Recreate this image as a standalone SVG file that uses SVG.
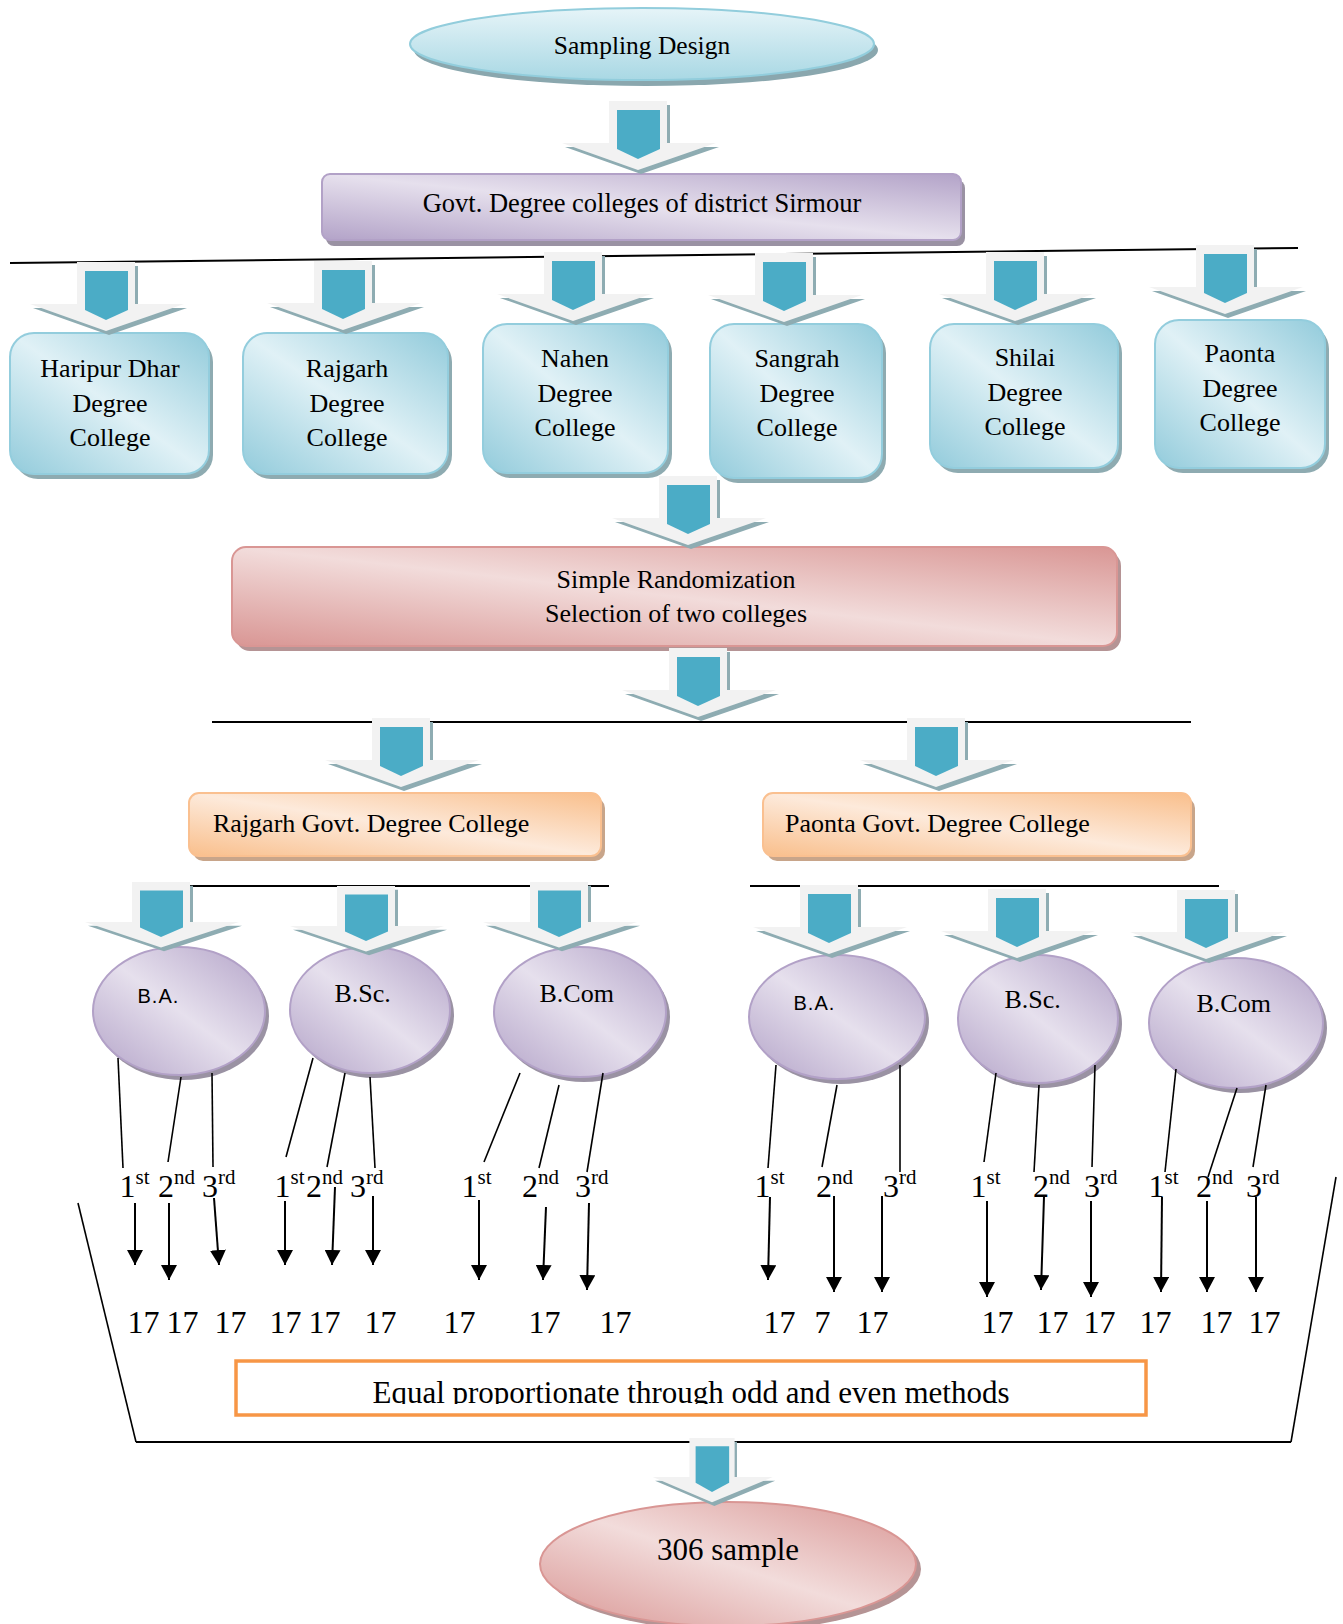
<svg xmlns="http://www.w3.org/2000/svg" width="1343" height="1624" viewBox="0 0 1343 1624">
<style>
.t{font-family:"Liberation Serif","Times New Roman",serif;fill:#000}
.f26{font-size:26px}
.c{text-anchor:middle}
.lbl{font-size:32px}
.sans{font-family:"Liberation Sans",Arial,sans-serif;font-size:20px;letter-spacing:1px;fill:#000}
.ln{stroke:#000;stroke-width:1.6;fill:none}
.hl{stroke:#000;stroke-width:2;fill:none}
.ar{stroke:#000;stroke-width:2;fill:none;marker-end:url(#ah)}
.teal{fill:url(#gTeal);stroke:#93cddd;stroke-width:2}
.tealS{fill:#8eabb1}
.pur{fill:url(#gPur);stroke:#b2a1c7;stroke-width:2}
.purS{fill:#9a92a3}
.pink{fill:url(#gPink);stroke:#d99694;stroke-width:2}
.pinkS{fill:#b59495}
.org{fill:url(#gOrg);stroke:#fac090;stroke-width:2}
.orgS{fill:#c8a58a}
</style>
<defs>
<linearGradient id="gTeal" x1="1" y1="0" x2="0" y2="1">
<stop offset="0" stop-color="#92cbdb"/><stop offset="0.5" stop-color="#e0f1f6"/><stop offset="1" stop-color="#92cbdb"/>
</linearGradient>
<linearGradient id="gTop" x1="0" y1="0" x2="0" y2="1">
<stop offset="0" stop-color="#e6f4f8"/><stop offset="1" stop-color="#a9d8e4"/>
</linearGradient>
<linearGradient id="gPur" x1="1" y1="0" x2="0" y2="1">
<stop offset="0" stop-color="#b3a3c8"/><stop offset="0.5" stop-color="#e6e0ed"/><stop offset="1" stop-color="#b3a3c8"/>
</linearGradient>
<linearGradient id="gPink" x1="1" y1="0" x2="0" y2="1">
<stop offset="0" stop-color="#d99694"/><stop offset="0.5" stop-color="#f2dcdb"/><stop offset="1" stop-color="#d99694"/>
</linearGradient>
<linearGradient id="gOrg" x1="1" y1="0" x2="0" y2="1">
<stop offset="0" stop-color="#f9bf8c"/><stop offset="0.5" stop-color="#fdeadb"/><stop offset="1" stop-color="#f9bf8c"/>
</linearGradient>
<marker id="ah" viewBox="0 0 15 16" refX="15" refY="8" markerWidth="15" markerHeight="16" markerUnits="userSpaceOnUse" orient="auto">
<path d="M0,0 L15,8 L0,16 z" fill="#000"/>
</marker>
<g id="arrow">
<polygon points="-29,0 29,0 29,42 78,42 0,69 -76,42 -29,42" fill="#8eacb2" transform="translate(3,4)"/>
<polygon points="-29,0 29,0 29,42 78,42 0,69 -76,42 -29,42" fill="#f2f2f2"/>
<polygon points="-21,9 22,9 22,48 0,58 -21,48" fill="#4bacc6"/>
</g>
<clipPath id="clipEq"><rect x="236" y="1361" width="910" height="43"/></clipPath>
</defs>
<rect x="0" y="0" width="1343" height="1624" fill="#fff"/>

<g id="nodes">
<g id="n-sampling">
<ellipse cx="646" cy="50" rx="232" ry="36" fill="#8aa7ae"/>
<ellipse cx="642" cy="44" rx="232" ry="36" fill="url(#gTop)" stroke="#92cddc" stroke-width="2"/>
<text class="t c" x="642" y="54" font-size="25.5">Sampling Design</text>
</g>
<g id="n-govt">
<rect x="326" y="180" width="639" height="66" rx="8" class="purS"/>
<rect x="322" y="174" width="639" height="66" rx="8" class="pur"/>
<text class="t c" x="642" y="212" font-size="26.5">Govt. Degree colleges of district Sirmour</text>
</g>
<g id="n-haripur">
<rect x="14" y="338" width="199" height="141" rx="24" class="tealS"/>
<rect x="10" y="333" width="199" height="141" rx="24" class="teal"/>
<text class="t c f26" x="110" y="377">Haripur Dhar</text>
<text class="t c f26" x="110" y="412">Degree</text>
<text class="t c f26" x="110" y="446">College</text>
</g>
<g id="n-rajgarh">
<rect x="247" y="338" width="205" height="141" rx="24" class="tealS"/>
<rect x="243" y="333" width="205" height="141" rx="24" class="teal"/>
<text class="t c f26" x="347" y="377">Rajgarh</text>
<text class="t c f26" x="347" y="412">Degree</text>
<text class="t c f26" x="347" y="446">College</text>
</g>
<g id="n-nahen">
<rect x="487" y="329" width="185" height="149" rx="24" class="tealS"/>
<rect x="483" y="324" width="185" height="149" rx="24" class="teal"/>
<text class="t c f26" x="575" y="367">Nahen</text>
<text class="t c f26" x="575" y="402">Degree</text>
<text class="t c f26" x="575" y="436">College</text>
</g>
<g id="n-sangrah">
<rect x="714" y="329" width="172" height="154" rx="24" class="tealS"/>
<rect x="710" y="324" width="172" height="154" rx="24" class="teal"/>
<text class="t c f26" x="797" y="367">Sangrah</text>
<text class="t c f26" x="797" y="402">Degree</text>
<text class="t c f26" x="797" y="436">College</text>
</g>
<g id="n-shilai">
<rect x="934" y="329" width="188" height="144" rx="24" class="tealS"/>
<rect x="930" y="324" width="188" height="144" rx="24" class="teal"/>
<text class="t c f26" x="1025" y="366">Shilai</text>
<text class="t c f26" x="1025" y="401">Degree</text>
<text class="t c f26" x="1025" y="435">College</text>
</g>
<g id="n-paonta">
<rect x="1159" y="325" width="170" height="148" rx="24" class="tealS"/>
<rect x="1155" y="320" width="170" height="148" rx="24" class="teal"/>
<text class="t c f26" x="1240" y="362">Paonta</text>
<text class="t c f26" x="1240" y="397">Degree</text>
<text class="t c f26" x="1240" y="431">College</text>
</g>
<g id="n-simple">
<rect x="236" y="552" width="885" height="99" rx="14" class="pinkS"/>
<rect x="232" y="547" width="885" height="99" rx="14" class="pink"/>
<text class="t c f26" x="676" y="588">Simple Randomization</text>
<text class="t c f26" x="676" y="622">Selection of two colleges</text>
</g>
<g id="n-rajgarh-govt">
<rect x="193" y="798" width="412" height="63" rx="10" class="orgS"/>
<rect x="189" y="793" width="412" height="63" rx="10" class="org"/>
<text class="t f26" x="213" y="832">Rajgarh Govt. Degree College</text>
</g>
<g id="n-paonta-govt">
<rect x="767" y="798" width="428" height="63" rx="10" class="orgS"/>
<rect x="763" y="793" width="428" height="63" rx="10" class="org"/>
<text class="t f26" x="785" y="832">Paonta Govt. Degree College</text>
</g>
<g id="n-ba-r">
<ellipse cx="183" cy="1016" rx="86" ry="64" class="purS"/>
<ellipse cx="179" cy="1011" rx="86" ry="64" class="pur"/>
<text class="sans" x="137.5" y="1003">B.A.</text>
</g>
<g id="n-bsc-r">
<ellipse cx="374" cy="1015" rx="80" ry="63" class="purS"/>
<ellipse cx="370" cy="1010" rx="80" ry="63" class="pur"/>
<text class="t f26" x="334.5" y="1002">B.Sc.</text>
</g>
<g id="n-bcom-r">
<ellipse cx="584" cy="1017" rx="86" ry="65" class="purS"/>
<ellipse cx="580" cy="1012" rx="86" ry="65" class="pur"/>
<text class="t f26" x="539.5" y="1002">B.Com</text>
</g>
<g id="n-ba-p">
<ellipse cx="841" cy="1022" rx="88" ry="62" class="purS"/>
<ellipse cx="837" cy="1017" rx="88" ry="62" class="pur"/>
<text class="sans" x="793.5" y="1010">B.A.</text>
</g>
<g id="n-bsc-p">
<ellipse cx="1042" cy="1024" rx="80" ry="64" class="purS"/>
<ellipse cx="1038" cy="1019" rx="80" ry="64" class="pur"/>
<text class="t f26" x="1004.5" y="1008">B.Sc.</text>
</g>
<g id="n-bcom-p">
<ellipse cx="1240" cy="1028" rx="87" ry="65" class="purS"/>
<ellipse cx="1236" cy="1023" rx="87" ry="65" class="pur"/>
<text class="t f26" x="1196.5" y="1012">B.Com</text>
</g>
<g id="n-labels" class="t">
<text class="t lbl" x="119.5" y="1197">1<tspan font-size="21" dy="-13">st</tspan></text>
<text class="t lbl" x="158" y="1197">2<tspan font-size="21" dy="-13">nd</tspan></text>
<text class="t lbl" x="202" y="1197">3<tspan font-size="21" dy="-13">rd</tspan></text>
<text class="t lbl" x="274.5" y="1197">1<tspan font-size="21" dy="-13">st</tspan></text>
<text class="t lbl" x="306" y="1197">2<tspan font-size="21" dy="-13">nd</tspan></text>
<text class="t lbl" x="350" y="1197">3<tspan font-size="21" dy="-13">rd</tspan></text>
<text class="t lbl" x="461.5" y="1197">1<tspan font-size="21" dy="-13">st</tspan></text>
<text class="t lbl" x="522" y="1197">2<tspan font-size="21" dy="-13">nd</tspan></text>
<text class="t lbl" x="575" y="1197">3<tspan font-size="21" dy="-13">rd</tspan></text>
<text class="t lbl" x="754.5" y="1197">1<tspan font-size="21" dy="-13">st</tspan></text>
<text class="t lbl" x="816" y="1197">2<tspan font-size="21" dy="-13">nd</tspan></text>
<text class="t lbl" x="883" y="1197">3<tspan font-size="21" dy="-13">rd</tspan></text>
<text class="t lbl" x="970.5" y="1197">1<tspan font-size="21" dy="-13">st</tspan></text>
<text class="t lbl" x="1033" y="1197">2<tspan font-size="21" dy="-13">nd</tspan></text>
<text class="t lbl" x="1084" y="1197">3<tspan font-size="21" dy="-13">rd</tspan></text>
<text class="t lbl" x="1148.5" y="1197">1<tspan font-size="21" dy="-13">st</tspan></text>
<text class="t lbl" x="1196" y="1197">2<tspan font-size="21" dy="-13">nd</tspan></text>
<text class="t lbl" x="1246" y="1197">3<tspan font-size="21" dy="-13">rd</tspan></text>
</g>
<g id="n-counts">
<text class="t lbl" x="127.5" y="1333">17</text>
<text class="t lbl" x="166.5" y="1333">17</text>
<text class="t lbl" x="214.5" y="1333">17</text>
<text class="t lbl" x="269.5" y="1333">17</text>
<text class="t lbl" x="308.5" y="1333">17</text>
<text class="t lbl" x="364.5" y="1333">17</text>
<text class="t lbl" x="443.5" y="1333">17</text>
<text class="t lbl" x="528.5" y="1333">17</text>
<text class="t lbl" x="599.5" y="1333">17</text>
<text class="t lbl" x="763.5" y="1333">17</text>
<text class="t lbl" x="814.5" y="1333">7</text>
<text class="t lbl" x="856.5" y="1333">17</text>
<text class="t lbl" x="981.5" y="1333">17</text>
<text class="t lbl" x="1036.5" y="1333">17</text>
<text class="t lbl" x="1083.5" y="1333">17</text>
<text class="t lbl" x="1139.5" y="1333">17</text>
<text class="t lbl" x="1200.5" y="1333">17</text>
<text class="t lbl" x="1248.5" y="1333">17</text>
</g>
<g id="n-equal">
<rect x="236" y="1361" width="910" height="54" fill="#fff" stroke="#f79646" stroke-width="3.5"/>
<text class="t c" x="691" y="1403" font-size="31" clip-path="url(#clipEq)">Equal proportionate through odd and even methods</text>
</g>
<g id="n-sample">
<ellipse cx="733" cy="1569" rx="188" ry="62" class="pinkS"/>
<ellipse cx="728" cy="1564" rx="188" ry="62" class="pink"/>
<text class="t c" x="728" y="1560" font-size="31">306 sample</text>
</g>
</g>

<g id="connectors">
<line class="hl" x1="10" y1="263" x2="1298" y2="248"/>
<line class="hl" x1="212" y1="722" x2="1191" y2="722"/>
<line class="hl" x1="185" y1="886" x2="609" y2="886"/>
<line class="hl" x1="750" y1="886" x2="1219" y2="886"/>
<line class="ln" x1="78" y1="1203" x2="136" y2="1442"/>
<line class="hl" x1="136" y1="1442" x2="1291" y2="1442"/>
<line class="ln" x1="1291" y1="1442" x2="1336" y2="1177"/>

<use href="#arrow" transform="translate(638,101)"/>
<use href="#arrow" transform="translate(106,262)"/>
<use href="#arrow" transform="translate(343,261)"/>
<use href="#arrow" transform="translate(573,252)"/>
<use href="#arrow" transform="translate(784,253)"/>
<use href="#arrow" transform="translate(1015,252)"/>
<use href="#arrow" transform="translate(1225,245)"/>
<use href="#arrow" transform="translate(688,476)"/>
<use href="#arrow" transform="translate(698,648)"/>
<use href="#arrow" transform="translate(401,718)"/>
<use href="#arrow" transform="translate(936,718)"/>
<use href="#arrow" transform="translate(161,882) scale(1,0.95)"/>
<use href="#arrow" transform="translate(366,886) scale(1,0.95)"/>
<use href="#arrow" transform="translate(559,882) scale(1,0.95)"/>
<use href="#arrow" transform="translate(829,885)"/>
<use href="#arrow" transform="translate(1017,889)"/>
<use href="#arrow" transform="translate(1206,890)"/>
<use href="#arrow" transform="translate(712,1438) scale(0.78,0.93)"/>

<line class="ln" x1="118" y1="1058" x2="123" y2="1168"/>
<line class="ln" x1="181" y1="1077" x2="168" y2="1162"/>
<line class="ln" x1="212" y1="1073" x2="213" y2="1167"/>
<line class="ln" x1="313" y1="1058" x2="286" y2="1157"/>
<line class="ln" x1="345" y1="1073" x2="327" y2="1167"/>
<line class="ln" x1="370" y1="1077" x2="375" y2="1168"/>
<line class="ln" x1="520" y1="1073" x2="484" y2="1162"/>
<line class="ln" x1="559" y1="1085" x2="539" y2="1168"/>
<line class="ln" x1="603" y1="1073" x2="587" y2="1172"/>
<line class="ln" x1="776" y1="1065" x2="768" y2="1168"/>
<line class="ln" x1="837" y1="1085" x2="822" y2="1167"/>
<line class="ln" x1="900" y1="1065" x2="900" y2="1172"/>
<line class="ln" x1="996" y1="1073" x2="984" y2="1162"/>
<line class="ln" x1="1039" y1="1085" x2="1034" y2="1172"/>
<line class="ln" x1="1095" y1="1065" x2="1092" y2="1167"/>
<line class="ln" x1="1176" y1="1069" x2="1165" y2="1172"/>
<line class="ln" x1="1237" y1="1088" x2="1208" y2="1177"/>
<line class="ln" x1="1266" y1="1085" x2="1253" y2="1167"/>

<line class="ar" x1="135" y1="1203" x2="135" y2="1265"/>
<line class="ar" x1="169" y1="1203" x2="169" y2="1280"/>
<line class="ar" x1="214" y1="1198" x2="219" y2="1265"/>
<line class="ar" x1="285" y1="1201" x2="285" y2="1265"/>
<line class="ar" x1="335" y1="1187" x2="332" y2="1265"/>
<line class="ar" x1="373" y1="1196" x2="373" y2="1265"/>
<line class="ar" x1="479" y1="1200" x2="479" y2="1280"/>
<line class="ar" x1="546" y1="1207" x2="543" y2="1280"/>
<line class="ar" x1="589" y1="1203" x2="587" y2="1290"/>
<line class="ar" x1="770" y1="1197" x2="768" y2="1280"/>
<line class="ar" x1="834" y1="1196" x2="834" y2="1292"/>
<line class="ar" x1="882" y1="1196" x2="882" y2="1292"/>
<line class="ar" x1="987" y1="1201" x2="987" y2="1297"/>
<line class="ar" x1="1044" y1="1197" x2="1041" y2="1290"/>
<line class="ar" x1="1091" y1="1201" x2="1091" y2="1297"/>
<line class="ar" x1="1162" y1="1197" x2="1161" y2="1292"/>
<line class="ar" x1="1207" y1="1201" x2="1207" y2="1292"/>
<line class="ar" x1="1256" y1="1197" x2="1256" y2="1292"/>
</g>
</svg>
